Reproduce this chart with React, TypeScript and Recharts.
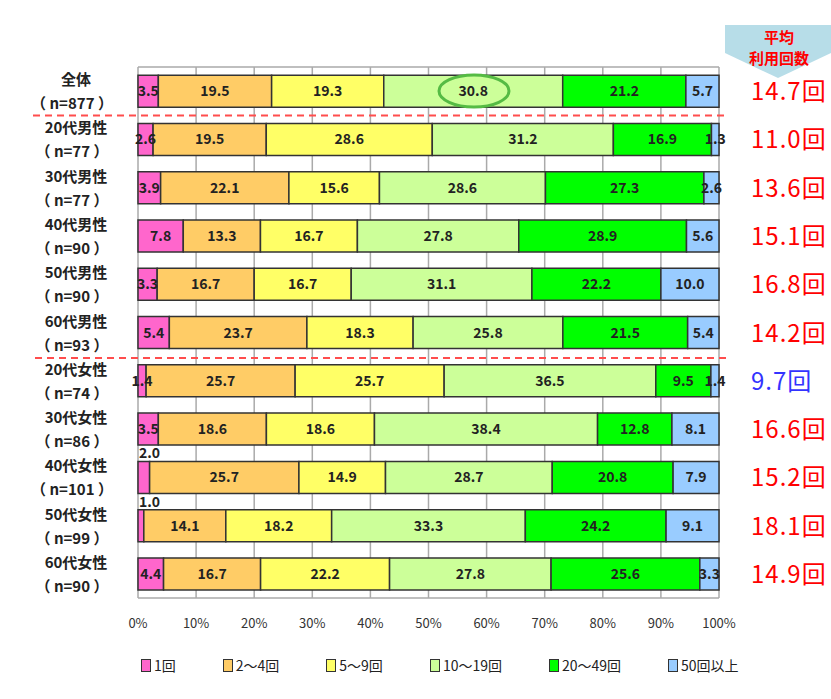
import React from "react";
import {
	BarChart,
	Bar,
	XAxis,
	YAxis,
	CartesianGrid,
	LabelList,
} from "recharts";

// categories and sample sizes
const categories = [
	"全体",
	"20代男性",
	"30代男性",
	"40代男性",
	"50代男性",
	"60代男性",
	"20代女性",
	"30代女性",
	"40代女性",
	"50代女性",
	"60代女性",
];
const sampleSizes = [877, 77, 77, 90, 90, 93, 74, 86, 101, 99, 90];

// share of users by usage count (%)
const once = [3.5, 2.6, 3.9, 7.8, 3.3, 5.4, 1.4, 3.5, 2.0, 1.0, 4.4];
const twoToFour = [19.5, 19.5, 22.1, 13.3, 16.7, 23.7, 25.7, 18.6, 25.7, 14.1, 16.7];
const fiveToNine = [19.3, 28.6, 15.6, 16.7, 16.7, 18.3, 25.7, 18.6, 14.9, 18.2, 22.2];
const tenToNineteen = [30.8, 31.2, 28.6, 27.8, 31.1, 25.8, 36.5, 38.4, 28.7, 33.3, 27.8];
const twentyToFortyNine = [21.2, 16.9, 27.3, 28.9, 22.2, 21.5, 9.5, 12.8, 20.8, 24.2, 25.6];
const fiftyPlus = [5.7, 1.3, 2.6, 5.6, 10.0, 5.4, 1.4, 8.1, 7.9, 9.1, 3.3];

// average number of uses
const avgUses = [14.7, 11.0, 13.6, 15.1, 16.8, 14.2, 9.7, 16.6, 15.2, 18.1, 14.9];

const seriesNames = ["1回", "2～4回", "5～9回", "10～19回", "20～49回", "50回以上"];
const seriesValues = [once, twoToFour, fiveToNine, tenToNineteen, twentyToFortyNine, fiftyPlus];
const seriesColors = ["#FF66CC", "#FFCC66", "#FFFF66", "#CCFF99", "#00FF00", "#99CCFF"];

const xTicks = [0, 0.1, 0.2, 0.3, 0.4, 0.5, 0.6, 0.7, 0.8, 0.9, 1];

// tiny first segments whose label sits above the bar
const labelAboveRows = new Set(["40代女性", "50代女性"]);

const FONT = '"Noto Sans CJK JP", "Noto Sans", sans-serif';

const rows = categories.map((name, i) => {
	const row: Record<string, string | number> = { name };
	seriesValues.forEach((vals, k) => {
		row[`s${k}`] = vals[i];
	});
	return row;
});

const minAvg = Math.min(...avgUses);

function CategoryTick(props: any) {
	const { x, y, payload } = props;
	const i = payload.index;
	return (
		<g fontFamily={FONT} fontWeight={700} fontSize={15} fill="#222">
			<text x={x - 54} y={y - 6} textAnchor="middle">
				{categories[i]}
			</text>
			<text x={x - 58} y={y + 18} textAnchor="middle">
				{`（ n=${sampleSizes[i]} ）`}
			</text>
		</g>
	);
}

function AvgTick(props: any) {
	const { x, y, payload } = props;
	const v = avgUses[payload.index];
	return (
		<text
			x={x + 24}
			y={y + 9}
			textAnchor="start"
			fontFamily={FONT}
			fontSize={24}
			letterSpacing={1}
			fill={v === minAvg ? "#3333FF" : "#FF0000"}
		>
			{`${v.toFixed(1)}回`}
		</text>
	);
}

function makeLabel(k: number) {
	return (props: any) => {
		const vb = props.viewBox ?? props;
		const { x, y, width, height } = vb;
		const index = props.index;
		const v = seriesValues[k][index];
		if (v == null) return null;
		const above = k === 0 && labelAboveRows.has(categories[index]);
		return (
			<text
				x={above ? x + 1 : x + width / 2}
				y={above ? y - 3 : y + height / 2 + 5}
				textAnchor={above ? "start" : "middle"}
				fontFamily={FONT}
				fontWeight={700}
				fontSize={14}
				fill="#222"
			>
				{v.toFixed(1)}
			</text>
		);
	};
}

function ChartLegend() {
	return (
		<div
			style={{
				position: "absolute",
				left: 141,
				top: 655,
				display: "flex",
				gap: 47,
				fontFamily: FONT,
				fontSize: 14,
				color: "#222",
				alignItems: "center",
			}}
		>
			{seriesNames.map((name, k) => (
				<div key={name} style={{ display: "flex", alignItems: "center", gap: 3 }}>
					<span
						style={{
							display: "inline-block",
							width: 8,
							height: 11,
							background: seriesColors[k],
							border: "1.5px solid #333",
						}}
					/>
					<span>{name}</span>
				</div>
			))}
		</div>
	);
}

export default function App() {
	return (
		<div style={{ position: "absolute", left: 0, top: 0, width: 831, height: 699, background: "#fff" }}>
			<BarChart
				width={831}
				height={699}
				layout="vertical"
				data={rows}
				stackOffset="expand"
				barCategoryGap="17%"
				margin={{ top: 67, right: 0, bottom: 71, left: 0 }}
			>
				<CartesianGrid
					stroke="#aaaaaa"
					strokeWidth={1.5}
					horizontalCoordinatesGenerator={({ offset }: any) => [
						offset.top,
						offset.top + offset.height,
					]}
				/>
				<XAxis
					type="number"
					domain={[0, 1]}
					ticks={xTicks}
					tickFormatter={(v) => `${Math.round(v * 100)}%`}
					axisLine={false}
					tickLine={false}
					tickMargin={15}
					height={30}
					tick={{ fontFamily: FONT, fontSize: 13, fill: "#333" }}
				/>
				<YAxis
					type="category"
					dataKey="name"
					width={138}
					axisLine={false}
					tickLine={false}
					tick={<CategoryTick />}
					interval={0}
				/>
				<YAxis
					yAxisId="avg"
					orientation="right"
					type="category"
					dataKey="name"
					width={112}
					axisLine={false}
					tickLine={false}
					tick={<AvgTick />}
					interval={0}
				/>
				{seriesNames.map((name, k) => (
					<Bar
						key={name}
						dataKey={`s${k}`}
						name={name}
						stackId="a"
						fill={seriesColors[k]}
						stroke="#333"
						strokeWidth={1.5}
						isAnimationActive={false}
					>
						<LabelList dataKey={`s${k}`} content={makeLabel(k)} />
					</Bar>
				))}
			</BarChart>
			<ChartLegend />
			<svg
				width={831}
				height={699}
				style={{ position: "absolute", left: 0, top: 0, pointerEvents: "none" }}
			>
				<line x1={33} y1={115.5} x2={724} y2={115.5} stroke="#FF4D4D" strokeWidth={2} strokeDasharray="7 5" />
				<line x1={35} y1={358} x2={727} y2={358} stroke="#FF4D4D" strokeWidth={2} strokeDasharray="7 5" />
				<ellipse cx={474} cy={91} rx={35} ry={16} fill="none" stroke="#55BB44" strokeWidth={3} />
				<polygon points="725,25 831,25 831,53 778,78 725,53" fill="#B7DDE8" />
				<text x={779} y={43} textAnchor="middle" fontFamily={FONT} fontWeight={700} fontSize={15} fill="#FF0000">
					平均
				</text>
				<text x={779} y={64} textAnchor="middle" fontFamily={FONT} fontWeight={700} fontSize={15} fill="#FF0000">
					利用回数
				</text>
			</svg>
		</div>
	);
}
